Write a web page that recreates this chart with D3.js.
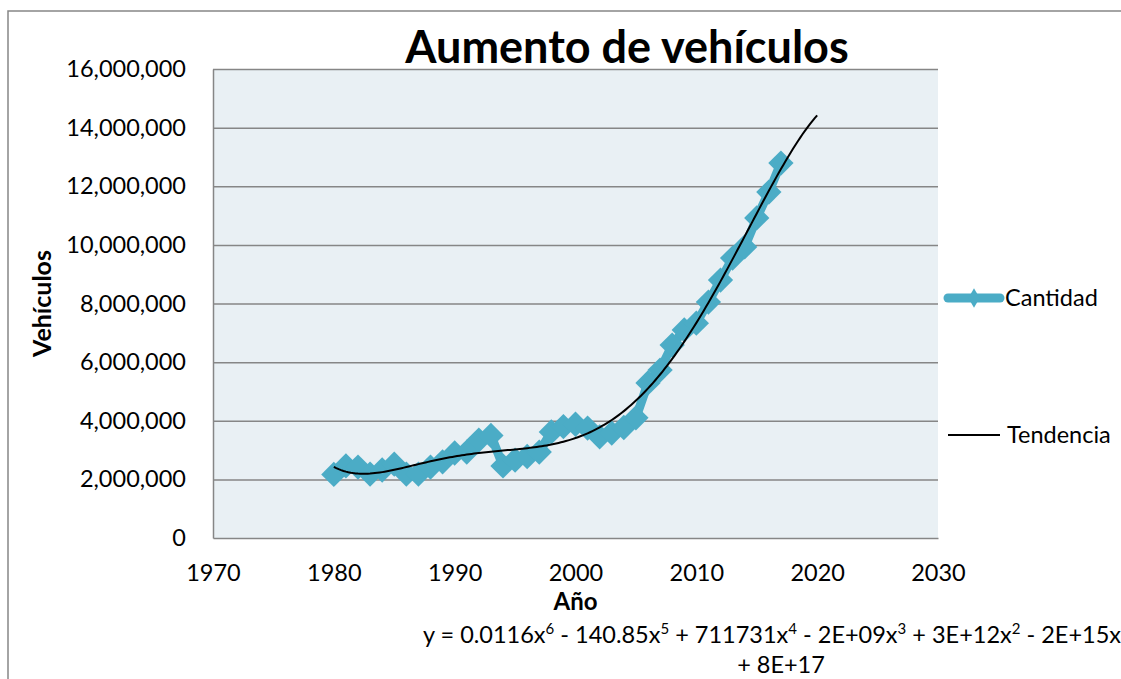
<!DOCTYPE html>
<html lang="es">
<head>
    <meta charset="UTF-8">
    <title>Aumento de vehículos</title>
    <style>
        html, body { margin: 0; padding: 0; background: #ffffff; }
        svg { display: block; font-family: Lato, "Open Sans", sans-serif; }
    </style>
    <script src="https://d3js.org/d3.v7.min.js"></script>
</head>
<body>
    <svg width="1121" height="679"></svg>
    <script>
        // data
        const years = [1980, 1981, 1982, 1983, 1984, 1985, 1986, 1987, 1988, 1989,
                       1990, 1991, 1992, 1993, 1994, 1995, 1996, 1997, 1998, 1999,
                       2000, 2001, 2002, 2003, 2004, 2005, 2006, 2007, 2008, 2009,
                       2010, 2011, 2012, 2013, 2014, 2015, 2016, 2017];
        const cantidad = [2170000, 2460000, 2420000, 2180000, 2320000, 2520000, 2180000, 2180000, 2420000, 2600000,
                          2900000, 2930000, 3340000, 3500000, 2460000, 2660000, 2780000, 2930000, 3620000, 3800000,
                          3880000, 3750000, 3450000, 3580000, 3770000, 4100000, 5290000, 5730000, 6580000, 7100000,
                          7330000, 8050000, 8800000, 9550000, 9930000, 10920000, 11800000, 12790000];
        const xTicks = [1970, 1980, 1990, 2000, 2010, 2020, 2030];
        const yTicks = [0, 2000000, 4000000, 6000000, 8000000, 10000000, 12000000, 14000000, 16000000];
        const trendEnd = 2020;

        const svg = d3.select("svg");
        const plot = { left: 213, right: 938, top: 69, bottom: 538 };

        const x = d3.scaleLinear().domain([1970, 2030]).range([plot.left, plot.right]);
        const y = d3.scaleLinear().domain([0, 16000000]).range([plot.bottom, plot.top]);

        const blue = "#4BACC6";
        const grid = "#868686";

        // outer chart border (runs off the right and bottom edges)
        svg.append("rect")
            .attr("x", 8).attr("y", 11)
            .attr("width", 1200).attr("height", 720)
            .attr("fill", "#fff")
            .attr("stroke", grid)
            .attr("stroke-width", 1.5);

        // plot background
        svg.append("rect")
            .attr("x", plot.left).attr("y", plot.top)
            .attr("width", plot.right - plot.left)
            .attr("height", plot.bottom - plot.top)
            .attr("fill", "#E9F0F4");

        // gridlines
        svg.append("g")
            .attr("transform", `translate(${plot.left},0)`)
            .call(d3.axisLeft(y).tickValues(yTicks.slice(1)).tickSize(-(plot.right - plot.left)).tickFormat(""))
            .call(g => g.select(".domain").remove())
            .call(g => g.selectAll("line").attr("stroke", grid).attr("stroke-width", 1.5));

        // axes
        const yAxis = svg.append("g")
            .attr("transform", `translate(${plot.left},0)`)
            .call(d3.axisLeft(y).tickValues(yTicks).tickSize(0).tickPadding(27).tickFormat(d3.format(",")));
        yAxis.select(".domain").attr("stroke", grid).attr("stroke-width", 1.5);
        yAxis.selectAll("text").attr("font-size", 23.5).attr("fill", "#000").attr("font-family", "Lato");

        const xAxis = svg.append("g")
            .attr("transform", `translate(0,${plot.bottom})`)
            .call(d3.axisBottom(x).tickValues(xTicks).tickSize(0).tickPadding(26).tickFormat(d3.format("d")));
        xAxis.select(".domain").attr("stroke", grid).attr("stroke-width", 1.5);
        xAxis.selectAll("text").attr("font-size", 23.5).attr("fill", "#000").attr("font-family", "Lato");

        // Cantidad series
        const diamond = d3.symbol().type(d3.symbolSquare).size(320);
        const line = d3.line().x((d, i) => x(years[i])).y(d => y(d));

        svg.append("path")
            .datum(cantidad)
            .attr("d", line)
            .attr("fill", "none")
            .attr("stroke", blue)
            .attr("stroke-width", 9)
            .attr("stroke-linejoin", "round")
            .attr("stroke-linecap", "round");

        svg.append("g").selectAll("path")
            .data(cantidad)
            .join("path")
            .attr("d", diamond)
            .attr("transform", (d, i) => `translate(${x(years[i])},${y(d)}) rotate(45)`)
            .attr("fill", blue);

        // polynomial trend (degree 6 least squares)
        const mid = (years[0] + years[years.length - 1]) / 2;
        const half = (years[years.length - 1] - years[0]) / 2;
        const deg = 6;
        function polyFit(xs, ys, n) {
            const m = n + 1;
            const A = d3.range(m).map(() => new Array(m + 1).fill(0));
            xs.forEach((xv, k) => {
                for (let i = 0; i < m; i++) {
                    for (let j = 0; j < m; j++) A[i][j] += Math.pow(xv, i + j);
                    A[i][m] += ys[k] * Math.pow(xv, i);
                }
            });
            for (let c = 0; c < m; c++) {
                let p = c;
                for (let r = c + 1; r < m; r++) if (Math.abs(A[r][c]) > Math.abs(A[p][c])) p = r;
                [A[c], A[p]] = [A[p], A[c]];
                for (let r = 0; r < m; r++) {
                    if (r === c) continue;
                    const f = A[r][c] / A[c][c];
                    for (let k = c; k <= m; k++) A[r][k] -= f * A[c][k];
                }
            }
            return A.map((row, i) => row[m] / row[i]);
        }
        const coef = polyFit(years.map(v => (v - mid) / half), cantidad, deg);
        const trend = t => coef.reduce((s, c, i) => s + c * Math.pow((t - mid) / half, i), 0);
        const trendYears = d3.range(years[0], trendEnd + 0.001, 0.2);

        svg.append("path")
            .datum(trendYears)
            .attr("d", d3.line().x(d => x(d)).y(d => y(trend(d))))
            .attr("fill", "none")
            .attr("stroke", "#000")
            .attr("stroke-width", 2);

        // title
        svg.append("text")
            .attr("x", 627).attr("y", 63)
            .attr("text-anchor", "middle")
            .attr("font-size", 45)
            .attr("font-weight", "bold")
            .text("Aumento de vehículos");

        // axis titles
        svg.append("text")
            .attr("transform", `translate(51,${(plot.top + plot.bottom) / 2}) rotate(-90)`)
            .attr("text-anchor", "middle")
            .attr("font-size", 25)
            .attr("font-weight", "bold")
            .text("Vehículos");

        svg.append("text")
            .attr("x", (plot.left + plot.right) / 2).attr("y", 610)
            .attr("text-anchor", "middle")
            .attr("font-size", 24)
            .attr("font-weight", "bold")
            .text("Año");

        // equation label
        const eqParts = [["y = 0.0116x", "6"], [" - 140.85x", "5"], [" + 711731x", "4"],
                         [" - 2E+09x", "3"], [" + 3E+12x", "2"], [" - 2E+15x", ""]];
        const eq = svg.append("text")
            .attr("x", 772).attr("y", 643)
            .attr("text-anchor", "middle")
            .attr("font-size", 23.5);
        let shift = 0;
        eqParts.forEach(([base, sup]) => {
            eq.append("tspan").attr("dy", -shift).text(base);
            shift = 0;
            if (sup) {
                eq.append("tspan").attr("dy", -9).attr("font-size", 15).text(sup);
                shift = -9;
            }
        });
        svg.append("text")
            .attr("x", 781).attr("y", 673)
            .attr("text-anchor", "middle")
            .attr("font-size", 23.5)
            .text("+ 8E+17");

        // legend
        const lg = svg.append("g");
        lg.append("line")
            .attr("x1", 948).attr("x2", 1000).attr("y1", 298).attr("y2", 298)
            .attr("stroke", blue).attr("stroke-width", 9).attr("stroke-linecap", "round");
        lg.append("path")
            .attr("d", d3.symbol().type(d3.symbolDiamond).size(110))
            .attr("transform", "translate(974,298)")
            .attr("fill", blue);
        lg.append("text").attr("x", 1005).attr("y", 306).attr("font-size", 23.5).text("Cantidad");
        lg.append("line")
            .attr("x1", 948).attr("x2", 1000).attr("y1", 435).attr("y2", 435)
            .attr("stroke", "#000").attr("stroke-width", 2);
        lg.append("text").attr("x", 1007).attr("y", 443).attr("font-size", 23.5).text("Tendencia");
    </script>
</body>
</html>
